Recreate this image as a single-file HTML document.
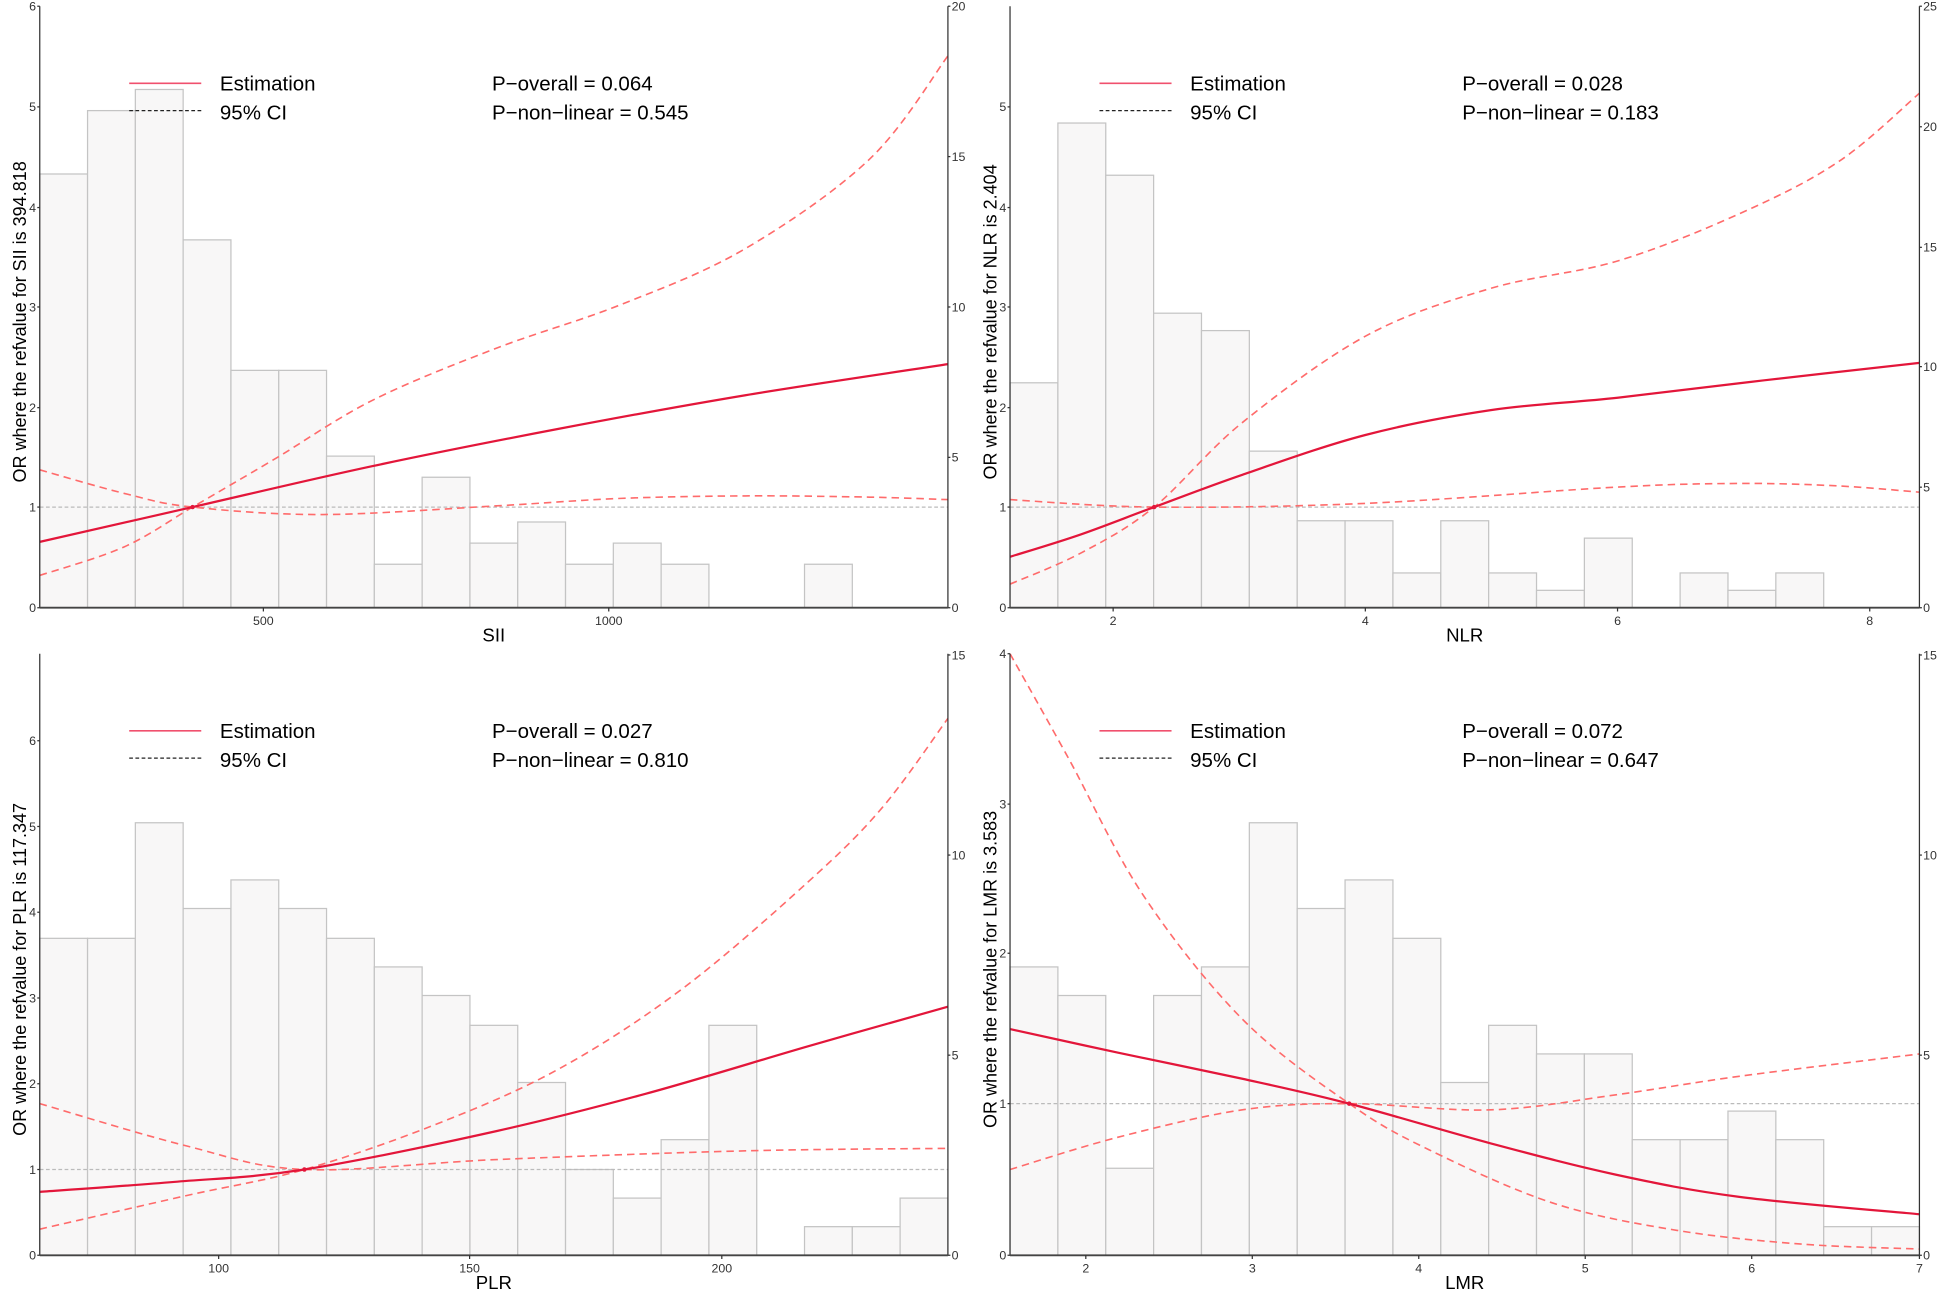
<!DOCTYPE html>
<html><head><meta charset="utf-8"><style>
html,body{margin:0;padding:0;background:#fff;}
svg{display:block;font-family:"Liberation Sans",Arial,sans-serif;}
</style></head><body>
<svg id="s" width="1948" height="1300" viewBox="0 0 1568 1046" preserveAspectRatio="none" xmlns="http://www.w3.org/2000/svg"></svg>
<script>
let out="";
function crPath(p){let d="M"+p[0][0]+","+p[0][1];for(let i=0;i<p.length-1;i++){const p0=p[i-1]||p[i],p1=p[i],p2=p[i+1],p3=p[i+2]||p2;
const c1=[p1[0]+(p2[0]-p0[0])/6,p1[1]+(p2[1]-p0[1])/6],c2=[p2[0]-(p3[0]-p1[0])/6,p2[1]-(p3[1]-p1[1])/6];
d+=` C${c1[0].toFixed(1)},${c1[1].toFixed(1)} ${c2[0].toFixed(1)},${c2[1].toFixed(1)} ${p2[0]},${p2[1]}`;}return d;}
function panel(o){
 const {x0,x1,y0,y1}=o;
 const bw=(x1-x0)/19;
 o.bars.forEach((t,i)=>{if(t==null)return;out+=`<rect x="${x0+i*bw}" y="${t}" width="${bw}" height="${y1-t}" fill="#f8f7f7" stroke="#c4c4c4" stroke-width="1"/>`;});
 out+=`<line x1="${x0}" y1="${o.ref}" x2="${x1}" y2="${o.ref}" stroke="#bbb" stroke-width="1" stroke-dasharray="3,2"/>`;
 out+=`<path d="${crPath(o.up)}" fill="none" stroke="#ff6b6b" stroke-width="1.3" stroke-dasharray="6,4"/>`;
 out+=`<path d="${crPath(o.lo)}" fill="none" stroke="#ff6b6b" stroke-width="1.3" stroke-dasharray="6,4"/>`;
 out+=`<path d="${crPath(o.est)}" fill="none" stroke="#e3163a" stroke-width="1.8"/>`;
 out+=`<circle cx="${o.rx}" cy="${o.ref}" r="1.8" fill="#e3163a"/>`;
 out+=`<line x1="${x0}" y1="${y0}" x2="${x0}" y2="${y1}" stroke="#333" stroke-width="1"/>`;
 out+=`<line x1="${x1}" y1="${y0}" x2="${x1}" y2="${y1}" stroke="#333" stroke-width="1"/>`;
 out+=`<line x1="${x0}" y1="${y1}" x2="${x1}" y2="${y1}" stroke="#444" stroke-width="1.5"/>`;
 o.lt.forEach(([v,y])=>{out+=`<line x1="${x0-2}" y1="${y}" x2="${x0}" y2="${y}" stroke="#333"/><text x="${x0-3}" y="${y+3.5}" font-size="10" text-anchor="end" fill="#333">${v}</text>`;});
 o.rt.forEach(([v,y])=>{out+=`<line x1="${x1}" y1="${y}" x2="${x1+2}" y2="${y}" stroke="#333"/><text x="${x1+3}" y="${y+3.5}" font-size="10" fill="#333">${v}</text>`;});
 o.xt.forEach(([v,x])=>{out+=`<line x1="${x}" y1="${y1}" x2="${x}" y2="${y1+3}" stroke="#333"/><text x="${x}" y="${y1+14}" font-size="10" text-anchor="middle" fill="#333">${v}</text>`;});
 out+=`<text x="${(x0+x1)/2}" y="${y1+27}" font-size="15" text-anchor="middle" fill="#000">${o.xl}</text>`;
 const cy=(y0+y1)/2+12;
 out+=`<text transform="translate(${x0-11},${cy}) rotate(-90)" font-size="14.5" text-anchor="middle" fill="#000">${o.yl}</text>`;
 const lx=x0+72,ly=y0+62;
 out+=`<line x1="${lx}" y1="${ly}" x2="${lx+58}" y2="${ly}" stroke="#f0506e" stroke-width="1.3"/>`;
 out+=`<line x1="${lx}" y1="${ly+22}" x2="${lx+58}" y2="${ly+22}" stroke="#222" stroke-width="1" stroke-dasharray="3,2"/>`;
 out+=`<text x="${lx+73}" y="${ly+6}" font-size="16.5" fill="#000">Estimation</text>`;
 out+=`<text x="${lx+73}" y="${ly+29}" font-size="16.5" fill="#000">95% CI</text>`;
 out+=`<text x="${x0+364}" y="${ly+6}" font-size="16.5" fill="#000">P−overall = ${o.p1}</text>`;
 out+=`<text x="${x0+364}" y="${ly+29}" font-size="16.5" fill="#000">P−non−linear = ${o.p2}</text>`;
}
const lt6=[[0,489],[1,408],[2,328],[3,247],[4,167],[5,86],[6,5]];
panel({x0:32,x1:763,y0:5,y1:489,ref:408,rx:155,
 bars:[140,89,72,193,298,298,367,454,384,437,420,454,437,454,null,null,454,null,null],
 est:[[32,436],[155,408],[300,375],[450,345],[600,318],[763,293]],
 up:[[32,463],[100,440],[155,408],[220,370],[300,322],[400,280],[500,245],[600,200],[700,128],[763,45]],
 lo:[[32,378],[100,397],[155,408],[260,414],[400,407],[500,401],[600,399],[700,400],[763,402]],
 lt:lt6,rt:[[0,489],[5,368],[10,247],[15,126],[20,5]],xt:[[500,212],[1000,490]],
 xl:"SII",yl:"OR where the refvalue for SII is 394.818",p1:"0.064",p2:"0.545"});
panel({x0:813,x1:1545,y0:5,y1:489,ref:408,rx:929,
 bars:[308,99,141,252,266,363,419,419,461,419,461,475,433,null,461,475,461,null,null],
 est:[[813,448],[870,430],[929,408],[1000,382],[1099,350],[1200,330],[1302,320],[1420,306],[1545,292]],
 up:[[813,470],[870,445],[929,408],[1000,340],[1100,270],[1200,232],[1302,210],[1400,172],[1480,130],[1545,75]],
 lo:[[813,402],[929,408],[1100,405],[1300,392],[1400,389],[1480,391],[1545,396]],
 lt:lt6.slice(0,6),rt:[[0,489],[5,392],[10,295],[15,199],[20,102],[25,5]],xt:[[2,896],[4,1099],[6,1302],[8,1505]],
 xl:"NLR",yl:"OR where the refvalue for NLR is 2.404",p1:"0.028",p2:"0.183"});
panel({x0:32,x1:763,y0:526,y1:1010,ref:941,rx:245,
 bars:[755,755,662,731,708,731,755,778,801,825,871,941,964,917,825,null,987,987,964],
 est:[[32,959],[140,951],[245,941],[400,910],[520,880],[650,842],[763,810]],
 up:[[32,989],[150,962],[245,941],[350,905],[450,860],[550,795],[650,710],[710,650],[763,578]],
 lo:[[32,888],[150,922],[245,941],[400,933],[600,926],[763,924]],
 lt:[[0,1010],[1,941],[2,872],[3,803],[4,734],[5,665],[6,596]],rt:[[0,1010],[5,849],[10,688],[15,527]],xt:[[100,176],[150,378],[200,581]],
 xl:"PLR",yl:"OR where the refvalue for PLR is 117.347",p1:"0.027",p2:"0.810"});
panel({x0:813,x1:1545,y0:526,y1:1010,ref:888,rx:1086,
 bars:[778,801,940,801,778,662,731,708,755,871,825,848,848,917,917,894,917,987,987],
 est:[[813,828],[900,847],[1000,868],[1086,888],[1200,920],[1300,945],[1400,963],[1545,977]],
 up:[[813,526],[860,610],[920,720],[1000,820],[1086,888],[1150,925],[1250,968],[1350,990],[1450,1001],[1545,1005]],
 lo:[[813,941],[900,915],[1000,893],[1086,888],[1200,893],[1300,881],[1400,866],[1545,848]],
 lt:[[0,1010],[1,888],[2,767],[3,647],[4,526]],rt:[[0,1010],[5,849],[10,688],[15,527]],xt:[[2,874],[3,1008],[4,1142],[5,1276],[6,1410],[7,1545]],
 xl:"LMR",yl:"OR where the refvalue for LMR is 3.583",p1:"0.072",p2:"0.647"});
document.getElementById("s").innerHTML=out;
</script>
</body></html>
